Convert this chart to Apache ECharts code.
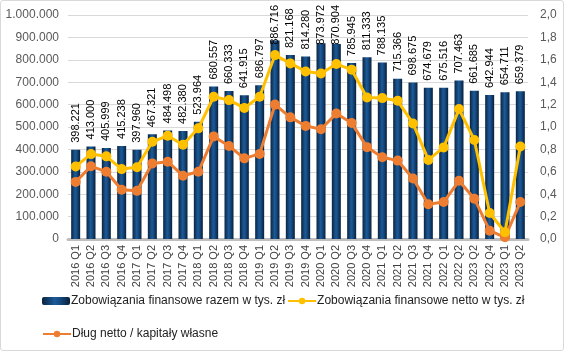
<!DOCTYPE html>
<html>
<head>
<meta charset="utf-8">
<script src="https://cdn.jsdelivr.net/npm/echarts@6/dist/echarts.min.js"></script>
<style>
  html, body { margin: 0; padding: 0; background: #fff; }
  #chart { width: 562px; height: 349px; border: 1px solid #d9d9d9; border-radius: 3px; }
</style>
</head>
<body>
<div id="chart"></div>
<script>
const quarters = [
  '2016 Q1', '2016 Q2', '2016 Q3', '2016 Q4',
  '2017 Q1', '2017 Q2', '2017 Q3', '2017 Q4',
  '2018 Q1', '2018 Q2', '2018 Q3', '2018 Q4',
  '2019 Q1', '2019 Q2', '2019 Q3', '2019 Q4',
  '2020 Q1', '2020 Q2', '2020 Q3', '2020 Q4',
  '2021 Q1', '2021 Q2', '2021 Q3', '2021 Q4',
  '2022 Q1', '2022 Q2', '2023 Q2', '2022 Q4', '2023 Q1', '2023 Q2'
]
// Zobowiązania finansowe razem w tys. zł
const totalLiabilities = [
  398221, 413000, 405999, 415238, 397960, 467321, 484498, 482380,
  523964, 680557, 660333, 641915, 686797, 886716, 821168, 814280,
  873972, 870904, 785945, 811333, 788135, 715366, 698675, 674679,
  675516, 707463, 661685, 642944, 654711, 659379
]
// Zobowiązania finansowe netto w tys. zł
const netLiabilities = [
  324000, 379000, 369000, 312000, 320000, 434000, 461000, 421000,
  494000, 635000, 620000, 585000, 635000, 821000, 784000, 748000,
  739000, 781000, 756000, 632000, 629000, 617000, 516000, 353000,
  409000, 580000, 442000, 116000, 30000, 413000
]
// Dług netto / kapitały własne
const debtToEquity = [
  0.51, 0.65, 0.60, 0.44, 0.43, 0.675, 0.69, 0.565,
  0.60, 0.916, 0.83, 0.72, 0.76, 1.20, 1.086, 1.01,
  0.98, 1.12, 1.035, 0.82, 0.73, 0.70, 0.54, 0.31,
  0.33, 0.52, 0.36, 0.074, 0.015, 0.33
]

const seriesNames = [
  'Zobowiązania finansowe razem w tys. zł',
  'Zobowiązania finansowe netto w tys. zł',
  'Dług netto / kapitały własne'
]

const fmtThousands = v => String(Math.round(v)).replace(/\B(?=(\d{3})+(?!\d))/g, '.')
const fmtComma = v => v.toFixed(1).replace('.', ',')

const font = 'Liberation Sans, Arial, sans-serif'
const labelFontSize = 11
const labelGap = 7
const barGradient = new echarts.graphic.LinearGradient(0, 0, 1, 0, [
  { offset: 0, color: '#0a2440' },
  { offset: 0.45, color: '#1c5a98' },
  { offset: 0.6, color: '#174f88' },
  { offset: 1, color: '#08203a' }
])

const chart = echarts.init(document.getElementById('chart'))
chart.setOption({
  animation: false,
  textStyle: { fontFamily: font },
  grid: { left: 67, right: 35, top: 14, bottom: 111 },
  legend: [
    {
      data: [seriesNames[0], seriesNames[1]],
      left: 36, top: 289, itemGap: 2, itemWidth: 28, itemHeight: 8,
      textStyle: { fontSize: 12, color: '#222', fontFamily: font, padding: [0, 0, 0, -4] }
    },
    {
      data: [seriesNames[2]],
      left: 36, top: 322, itemWidth: 28, itemHeight: 8,
      textStyle: { fontSize: 12, color: '#222', fontFamily: font, padding: [0, 0, 0, -4] }
    }
  ],
  xAxis: {
    type: 'category',
    data: quarters,
    axisTick: { show: false },
    axisLine: { lineStyle: { color: '#bfbfbf', width: 3 } },
    axisLabel: { rotate: 90, interval: 0, fontSize: 11, color: '#404040', margin: 6 }
  },
  yAxis: [
    {
      type: 'value', min: 0, max: 1000000, interval: 100000,
      axisLabel: { formatter: fmtThousands, fontSize: 12, color: '#595959', margin: 9 },
      splitLine: { lineStyle: { color: '#d9d9d9' } },
      axisLine: { show: false }, axisTick: { show: false }
    },
    {
      type: 'value', min: 0, max: 2, interval: 0.2,
      axisLabel: { formatter: fmtComma, fontSize: 12, color: '#595959', margin: 12 },
      splitLine: { show: false },
      axisLine: { show: false }, axisTick: { show: false }
    }
  ],
  series: [
    {
      name: seriesNames[0],
      type: 'bar',
      data: totalLiabilities,
      barWidth: 9,
      itemStyle: { color: barGradient },
      label: {
        show: true, position: 'top', rotate: 90, align: 'left', verticalAlign: 'middle',
        distance: labelGap, fontSize: labelFontSize, color: '#000', formatter: p => fmtThousands(p.value)
      },
      z: 1
    },
    {
      name: seriesNames[1],
      type: 'line',
      data: netLiabilities,
      symbol: 'circle', symbolSize: 10,
      lineStyle: { color: '#ffc000', width: 3 },
      itemStyle: { color: '#ffc000' },
      z: 3
    },
    {
      name: seriesNames[2],
      type: 'line',
      yAxisIndex: 1,
      data: debtToEquity,
      symbol: 'circle', symbolSize: 10,
      lineStyle: { color: '#ed7d31', width: 3 },
      itemStyle: { color: '#ed7d31' },
      z: 2
    }
  ]
})

// keep tall bar labels inside the chart, like the original does
const ctx = document.createElement('canvas').getContext('2d')
ctx.font = labelFontSize + 'px ' + font
const barData = totalLiabilities.map(v => {
  const top = chart.convertToPixel({ yAxisIndex: 0 }, v)
  const w = ctx.measureText(fmtThousands(v)).width
  const d = Math.min(labelGap, top - w - 4)
  return d < labelGap ? { value: v, label: { distance: d } } : v
})
chart.setOption({ series: [{ name: seriesNames[0], data: barData }] })
</script>
</body>
</html>
